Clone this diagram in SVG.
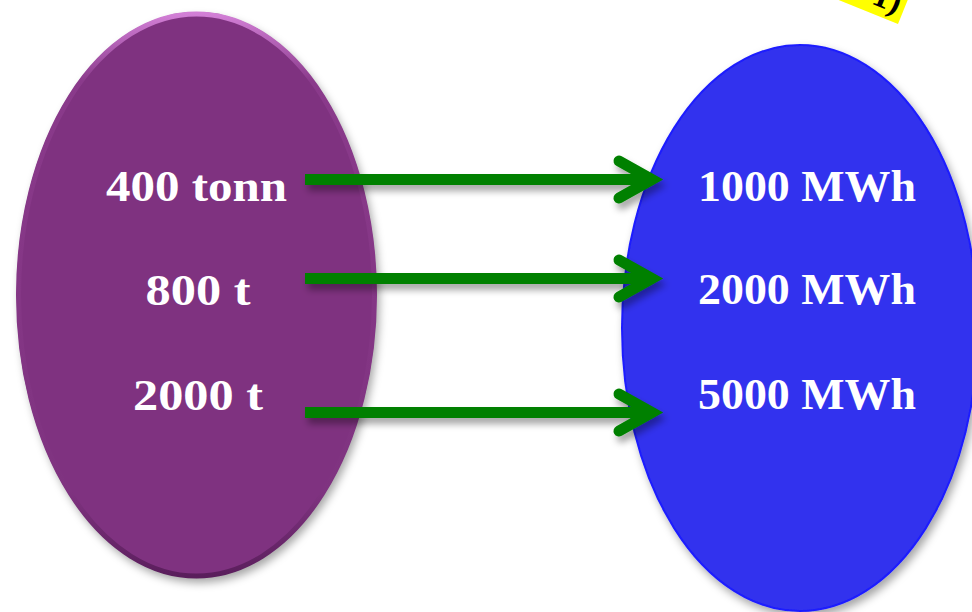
<svg xmlns="http://www.w3.org/2000/svg" width="972" height="612" viewBox="0 0 972 612">
  <defs>
    <filter id="shadow" x="-20%" y="-20%" width="140%" height="140%">
      <feDropShadow dx="3" dy="5" stdDeviation="4" flood-color="#000" flood-opacity="0.35"/>
    </filter>
    <filter id="ashadow" x="-10%" y="-50%" width="120%" height="200%">
      <feDropShadow dx="3" dy="6" stdDeviation="3.5" flood-color="#000" flood-opacity="0.35"/>
    </filter>
    <linearGradient id="bevel" x1="0" y1="0" x2="0" y2="1">
      <stop offset="0" stop-color="#D27FD6"/>
      <stop offset="0.12" stop-color="#8A3A8B"/>
      <stop offset="0.85" stop-color="#7F3380"/>
      <stop offset="1" stop-color="#5A1E5C"/>
    </linearGradient>
    <style>
      .lbl { font-family: "Liberation Serif", "DejaVu Serif", serif; font-weight: bold; font-size: 44px; fill: #ffffff; }
      .shaft { fill: none; stroke: #008000; stroke-width: 11; stroke-linecap: butt; }
      .head { fill: none; stroke: #008000; stroke-width: 11; stroke-linecap: round; stroke-linejoin: miter; }
    </style>
  </defs>

  <rect width="972" height="612" fill="#ffffff"/>

  <g id="badge">
    <g transform="translate(898,24) rotate(22)">
      <rect x="-220" y="-90" width="220" height="90" fill="#FFFF00"/>
      <text x="-5" y="-9" text-anchor="end" font-family="Liberation Serif, serif" font-weight="bold" font-size="34" fill="#000">1)</text>
    </g>
  </g>

  <g id="source">
    <ellipse cx="196.5" cy="295" rx="180" ry="283" fill="#7F3380" filter="url(#shadow)"/>
    <ellipse cx="196.5" cy="295" rx="178" ry="281" fill="none" stroke="url(#bevel)" stroke-width="5"/>
    <text class="lbl" x="196.5" y="201" text-anchor="middle" textLength="181" lengthAdjust="spacingAndGlyphs">400 tonn</text>
    <text class="lbl" x="198" y="305" text-anchor="middle" textLength="105" lengthAdjust="spacingAndGlyphs">800 t</text>
    <text class="lbl" x="198" y="410" text-anchor="middle" textLength="130" lengthAdjust="spacingAndGlyphs">2000 t</text>
  </g>

  <g id="target">
    <ellipse cx="800" cy="328" rx="178" ry="283" fill="#3232EE" stroke="#1C1CFF" stroke-width="2" filter="url(#shadow)"/>
    <text class="lbl" x="807" y="201" text-anchor="middle" textLength="218" lengthAdjust="spacingAndGlyphs">1000 MWh</text>
    <text class="lbl" x="807" y="304" text-anchor="middle" textLength="218" lengthAdjust="spacingAndGlyphs">2000 MWh</text>
    <text class="lbl" x="807" y="409" text-anchor="middle" textLength="218" lengthAdjust="spacingAndGlyphs">5000 MWh</text>
  </g>

  <g id="connectors" filter="url(#ashadow)">
    <g id="arrow1">
      <path class="shaft" d="M305,179.5 H650"/>
      <path class="head" d="M619,161 L652,179.5 L619,198"/>
    </g>
    <g id="arrow2">
      <path class="shaft" d="M305,278.5 H650"/>
      <path class="head" d="M619,260 L652,278.5 L619,297"/>
    </g>
    <g id="arrow3">
      <path class="shaft" d="M305,412.5 H650"/>
      <path class="head" d="M619,394 L652,412.5 L619,431"/>
    </g>
  </g>
</svg>
